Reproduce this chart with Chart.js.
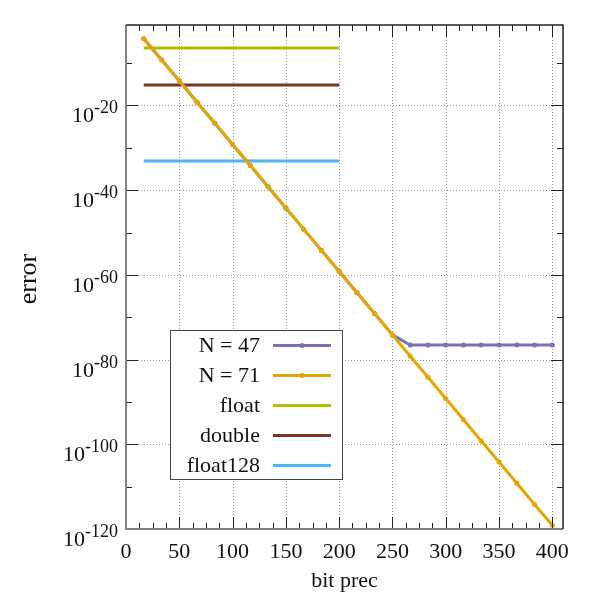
<!DOCTYPE html>
<html>
<head>
<meta charset="utf-8">
<script src="https://cdn.jsdelivr.net/npm/chart.js@4.4.1/dist/chart.umd.min.js"></script>
<style>
  body { margin: 0; background: #fff; }
</style>
</head>
<body>
<canvas id="chart" width="600" height="600"></canvas>
<script>
// data
const bitPrec = [16.67, 33.33, 50, 66.67, 83.33, 100, 116.67, 133.33, 150, 166.67, 183.33, 200,
                 216.67, 233.33, 250, 266.67, 283.33, 300, 316.67, 333.33, 350, 366.67, 383.33, 400];
const errN47 = [5.6e-5, 6.3e-10, 6.8e-15, 6.0e-20, 6.5e-25, 6.2e-30, 6.6e-35, 6.1e-40, 6.4e-45, 6.3e-50, 6.0e-55, 6.5e-60,
                6.6e-65, 7.0e-70, 6.8e-75, 2.7e-77, 2.7e-77, 2.7e-77, 2.7e-77, 2.7e-77, 2.7e-77, 2.7e-77, 2.7e-77, 2.7e-77];
const errN71 = [5.6e-5, 6.3e-10, 6.8e-15, 6.0e-20, 6.5e-25, 6.2e-30, 6.6e-35, 6.1e-40, 6.4e-45, 6.3e-50, 6.0e-55, 6.5e-60,
                6.2e-65, 6.4e-70, 6.3e-75, 6.1e-80, 6.5e-85, 6.2e-90, 6.4e-95, 6.0e-100, 6.3e-105, 6.5e-110, 6.2e-115, 7.5e-120];
const refBits = [16.67, 200];
const errFloat = [3.5e-7, 3.5e-7];
const errDouble = [6.6e-16, 6.6e-16];
const errFloat128 = [7.4e-34, 7.4e-34];

const xTickValues = [0, 50, 100, 150, 200, 250, 300, 350, 400];
const yTickExps = [-120, -100, -80, -60, -40, -20];
const yMinorExps = [-110, -90, -70, -50, -30, -10];

const FONT = '"Liberation Serif", "Times New Roman", serif';

const toPoints = (xs, ys) => xs.map((x, i) => ({ x: x, y: ys[i] }));

const seriesStyle = (color, withPoints, order) => ({
  borderColor: color,
  backgroundColor: color,
  borderWidth: 3,
  pointRadius: withPoints ? 2.5 : 0,
  pointBorderWidth: 0,
  pointBackgroundColor: color,
  tension: 0,
  order: order
});

// grid, ticks, frame, labels and legend drawn on top of the library's scales
const decor = {
  id: 'decor',
  beforeDatasetsDraw(chart) {
    const { ctx, chartArea: a, scales: { x, y } } = chart;
    ctx.save();
    ctx.strokeStyle = '#9a9a9a';
    ctx.lineWidth = 1;
    ctx.setLineDash([1, 2]);
    ctx.beginPath();
    xTickValues.forEach(v => {
      if (v === 0) return;
      const px = Math.round(x.getPixelForValue(v)) + 0.5;
      ctx.moveTo(px, a.top); ctx.lineTo(px, a.bottom);
    });
    yTickExps.forEach(e => {
      if (e === -120) return;
      const py = Math.round(y.getPixelForValue(Math.pow(10, e))) + 0.5;
      ctx.moveTo(a.left, py); ctx.lineTo(a.right, py);
    });
    ctx.stroke();
    ctx.restore();
  },
  afterDatasetsDraw(chart) {
    const { ctx, chartArea: a, scales: { x, y } } = chart;
    ctx.save();

    // inward ticks on all four sides
    ctx.strokeStyle = '#222';
    ctx.lineWidth = 1;
    ctx.beginPath();
    for (let v = 0; v <= 410; v += 12.5) {
      const px = Math.round(x.getPixelForValue(v)) + 0.5;
      const len = (v % 50 === 0) ? 12 : 6;
      ctx.moveTo(px, a.bottom); ctx.lineTo(px, a.bottom - len);
      ctx.moveTo(px, a.top); ctx.lineTo(px, a.top + len);
    }
    const yTick = (e, len) => {
      const py = Math.round(y.getPixelForValue(Math.pow(10, e))) + 0.5;
      ctx.moveTo(a.left, py); ctx.lineTo(a.left + len, py);
      ctx.moveTo(a.right, py); ctx.lineTo(a.right - len, py);
    };
    yTickExps.forEach(e => yTick(e, 12));
    yMinorExps.forEach(e => yTick(e, 6));
    ctx.stroke();

    // frame
    ctx.lineWidth = 2;
    ctx.strokeStyle = '#808080';
    ctx.beginPath();
    ctx.moveTo(a.left, a.top); ctx.lineTo(a.left, a.bottom); ctx.lineTo(a.right, a.bottom);
    ctx.stroke();
    ctx.lineWidth = 1.5;
    ctx.strokeStyle = '#222';
    ctx.beginPath();
    ctx.moveTo(a.left, a.top); ctx.lineTo(a.right, a.top); ctx.lineTo(a.right, a.bottom);
    ctx.stroke();

    // tick labels
    ctx.fillStyle = '#111';
    ctx.textBaseline = 'alphabetic';
    ctx.textAlign = 'center';
    ctx.font = '22px ' + FONT;
    xTickValues.forEach(v => ctx.fillText(String(v), x.getPixelForValue(v), 558));

    ctx.textAlign = 'right';
    yTickExps.forEach(e => {
      const py = y.getPixelForValue(Math.pow(10, e));
      const sup = String(e);
      ctx.font = '18px ' + FONT;
      const sw = ctx.measureText(sup).width;
      ctx.fillText(sup, a.left - 8, py + 8);
      ctx.font = '22px ' + FONT;
      ctx.fillText('10', a.left - 8 - sw, py + 17);
    });

    // axis titles
    ctx.textAlign = 'center';
    ctx.font = '22px ' + FONT;
    ctx.fillText('bit prec', (a.left + a.right) / 2, 587);
    ctx.save();
    ctx.translate(36, 279);
    ctx.rotate(-Math.PI / 2);
    ctx.font = '26px ' + FONT;
    ctx.fillText('error', 0, 0);
    ctx.restore();

    // legend box
    const bx = 170.5, by = 330.5, bw = 172, bh = 149;
    ctx.fillStyle = '#fff';
    ctx.fillRect(bx, by, bw, bh);
    ctx.strokeStyle = '#444';
    ctx.lineWidth = 1;
    ctx.strokeRect(bx, by, bw, bh);
    ctx.font = '22px ' + FONT;
    ctx.textAlign = 'right';
    ctx.textBaseline = 'middle';
    chart.data.datasets.forEach((ds, i) => {
      const cy = 345.5 + i * 30;
      ctx.fillStyle = '#111';
      ctx.fillText(ds.label, 260, cy + 1);
      ctx.strokeStyle = ds.borderColor;
      ctx.lineWidth = 3;
      ctx.beginPath();
      ctx.moveTo(273, cy); ctx.lineTo(331, cy);
      ctx.stroke();
      if (ds.pointRadius > 0) {
        ctx.fillStyle = ds.borderColor;
        ctx.beginPath();
        ctx.arc(302, cy, ds.pointRadius, 0, Math.PI * 2);
        ctx.fill();
      }
    });

    ctx.restore();
  }
};

new Chart(document.getElementById('chart'), {
  type: 'line',
  data: {
    datasets: [
      { label: 'N = 47', data: toPoints(bitPrec, errN47), ...seriesStyle('#7772bb', true, 2) },
      { label: 'N = 71', data: toPoints(bitPrec, errN71), ...seriesStyle('#e6a600', true, 1) },
      { label: 'float', data: toPoints(refBits, errFloat), ...seriesStyle('#b5bd00', false, 3) },
      { label: 'double', data: toPoints(refBits, errDouble), ...seriesStyle('#7d3523', false, 4) },
      { label: 'float128', data: toPoints(refBits, errFloat128), ...seriesStyle('#4cb6f7', false, 5) }
    ]
  },
  options: {
    responsive: false,
    animation: false,
    devicePixelRatio: 1,
    layout: { padding: { top: 25, right: 37, left: 0, bottom: 0 } },
    plugins: { legend: { display: false }, tooltip: { enabled: false } },
    scales: {
      x: {
        type: 'linear',
        min: 0,
        max: 410,
        afterBuildTicks: s => { s.ticks = xTickValues.map(v => ({ value: v })); },
        afterFit: s => { s.height = 71; },
        ticks: { display: false },
        grid: { display: false },
        border: { display: false }
      },
      y: {
        type: 'logarithmic',
        min: 1e-120,
        max: 1e-1,
        afterBuildTicks: s => { s.ticks = yTickExps.map(e => ({ value: Math.pow(10, e) })); },
        afterFit: s => { s.width = 126; },
        ticks: { display: false },
        grid: { display: false },
        border: { display: false }
      }
    }
  },
  plugins: [decor]
});
</script>
</body>
</html>
